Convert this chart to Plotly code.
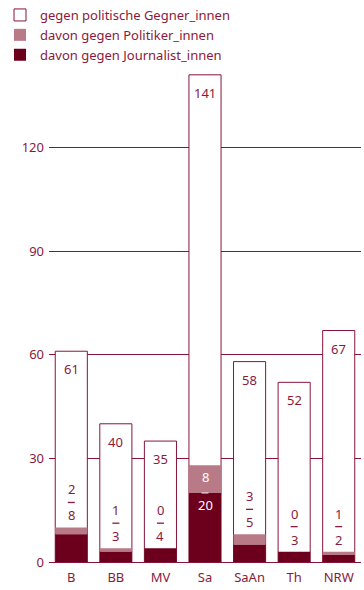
import plotly.graph_objects as go

categories = ["B", "BB", "MV", "Sa", "SaAn", "Th", "NRW"]
total = [61, 40, 35, 141, 58, 52, 67]
politiker = [2, 1, 0, 8, 3, 0, 1]
journalist = [8, 3, 4, 20, 5, 3, 2]
y_ticks = [0, 30, 60, 90, 120]

MAROON = "#86143a"
DARK = "#6c001c"
LIGHT = "#b87a86"
TEXT = "#8a1a3c"
FONT = "Noto Sans"

fig = go.Figure()
fig.add_trace(go.Bar(x=categories, y=total, name="gegen politische Gegner_innen",
                     marker=dict(color="white", line=dict(color=MAROON, width=1))))
fig.add_trace(go.Bar(x=categories, y=politiker, base=journalist, name="davon gegen Politiker_innen",
                     marker=dict(color=LIGHT, line=dict(width=0))))
fig.add_trace(go.Bar(x=categories, y=journalist, name="davon gegen Journalist_innen",
                     marker=dict(color=DARK, line=dict(width=0))))

ann = []
shapes = []


def dash(c, yval, off, color):
    shapes.append(dict(type="line", xref="x", yref="y", xsizemode="pixel", ysizemode="pixel",
                       xanchor=c, yanchor=yval, x0=-3.5, x1=3.5, y0=off, y1=off,
                       line=dict(color=color, width=1.3), layer="above"))


for c, t, p, j in zip(categories, total, politiker, journalist):
    ann.append(dict(x=c, y=t, text=str(t), showarrow=False, yanchor="top", yshift=-7,
                    font=dict(color=TEXT, size=13, family=FONT)))
    top = p + j
    if j >= 15:
        ann.append(dict(x=c, y=top, text=str(p), showarrow=False, yanchor="middle", yshift=-12,
                        font=dict(color="white", size=13, family=FONT)))
        dash(c, j, 0, "#e8d0d6")
        ann.append(dict(x=c, y=j, text=str(j), showarrow=False, yanchor="middle", yshift=-12,
                        font=dict(color="white", size=13, family=FONT)))
    else:
        ann.append(dict(x=c, y=top, text=str(j), showarrow=False, yanchor="middle", yshift=12,
                        font=dict(color=TEXT, size=13, family=FONT)))
        dash(c, top, 25, TEXT)
        ann.append(dict(x=c, y=top, text=str(p), showarrow=False, yanchor="middle", yshift=38,
                        font=dict(color=TEXT, size=13, family=FONT)))

fig.update_layout(
    width=364, height=590,
    margin=dict(l=49, r=3, t=61, b=28, autoexpand=False),
    barmode="overlay", bargap=0.28,
    plot_bgcolor="white", paper_bgcolor="white",
    font=dict(family=FONT, color=TEXT, size=13),
    showlegend=True,
    legend=dict(x=0.0, xref="container", y=1.0, yref="container", xanchor="left", yanchor="top",
                orientation="v", traceorder="normal", tracegroupgap=0,
                font=dict(size=13, color=TEXT, family=FONT), itemwidth=30,
                bgcolor="rgba(0,0,0,0)"),
    annotations=ann,
    shapes=shapes,
)
fig.update_xaxes(showgrid=False, showline=False, ticks="", tickfont=dict(size=13, color=TEXT),
                 ticklabelstandoff=6)
fig.update_yaxes(range=[0, 145], tickvals=y_ticks, showgrid=True, gridcolor=MAROON, gridwidth=1,
                 zeroline=True, zerolinecolor=MAROON, zerolinewidth=1, showline=False,
                 ticks="", tickfont=dict(size=13, color=TEXT), ticklabelstandoff=4)

fig.write_html("out.html")
